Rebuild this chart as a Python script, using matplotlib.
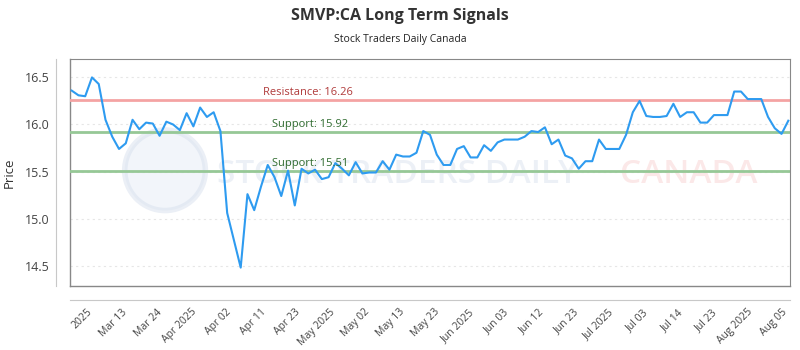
import matplotlib
matplotlib.use("Agg")
import matplotlib.pyplot as plt
import numpy as np
from matplotlib.patches import Ellipse

# closing prices, one per trading day
prices = [16.36, 16.31, 16.30, 16.50, 16.43, 16.05, 15.87, 15.74, 15.80, 16.05,
          15.95, 16.02, 16.01, 15.88, 16.03, 16.00, 15.94, 16.12, 15.98, 16.18,
          16.08, 16.13, 15.93, 15.06, 14.77, 14.48, 15.26, 15.09, 15.34, 15.57,
          15.44, 15.24, 15.51, 15.14, 15.53, 15.48, 15.52, 15.42, 15.44, 15.59,
          15.53, 15.46, 15.60, 15.48, 15.49, 15.49, 15.61, 15.52, 15.68, 15.66,
          15.66, 15.70, 15.93, 15.89, 15.68, 15.57, 15.57, 15.74, 15.77, 15.65,
          15.65, 15.78, 15.72, 15.81, 15.84, 15.84, 15.84, 15.87, 15.93, 15.92,
          15.97, 15.79, 15.84, 15.67, 15.64, 15.53, 15.61, 15.61, 15.84, 15.74,
          15.74, 15.74, 15.89, 16.13, 16.25, 16.09, 16.08, 16.08, 16.09, 16.22,
          16.08, 16.13, 16.13, 16.02, 16.02, 16.10, 16.10, 16.10, 16.35, 16.35,
          16.27, 16.27, 16.27, 16.08, 15.96, 15.90, 16.04]

tick_labels = ['2025', 'Mar 13', 'Mar 24', 'Apr 2025', 'Apr 02', 'Apr 11', 'Apr 23',
               'May 2025', 'May 02', 'May 13', 'May 23', 'Jun 2025', 'Jun 03', 'Jun 12',
               'Jun 23', 'Jul 2025', 'Jul 03', 'Jul 14', 'Jul 23', 'Aug 2025', 'Aug 05']

resistance = 16.26
supports = [15.92, 15.51]

plt.rcParams['font.family'] = ['Open Sans', 'DejaVu Sans']

fig = plt.figure(figsize=(8, 3.5), dpi=100)
ax = fig.add_axes([0.0875, 0.183, 0.9, 0.648])

# outer offset axis lines (set before ticks: set_position resets them)
for side in ['left', 'bottom']:
    ax.spines[side].set_position(('outward', 10))
    ax.spines[side].set_color('#c8c8c8')
for side in ['top', 'right']:
    ax.spines[side].set_color('#888888')
ax.plot([0, 0], [0, 1], transform=ax.transAxes, color='#888888', lw=1, clip_on=False)
ax.plot([0, 1], [0, 0], transform=ax.transAxes, color='#888888', lw=1, clip_on=False)

x = np.arange(len(prices))

# watermark
ax.add_patch(Ellipse((0.132, 0.51), 0.112, 0.355, transform=ax.transAxes,
                     facecolor='#e4eaf4', edgecolor='#d3ddec', lw=4, alpha=0.45, zorder=0))
ax.text(0.455, 0.49, 'STOCK TRADERS DAILY', transform=ax.transAxes, ha='center', va='center',
        fontsize=24, fontweight='semibold', color='#d6dfed', alpha=0.45, zorder=0)
ax.text(0.86, 0.49, 'CANADA', transform=ax.transAxes, ha='center', va='center',
        fontsize=24, fontweight='semibold', color='#f8cccc', alpha=0.45, zorder=0)

ax.axhline(resistance, color='#f4a3a3', lw=2, zorder=2)
for s in supports:
    ax.axhline(s, color='#96c896', lw=2, zorder=2)

ax.plot(x, prices, color='#2e9bf0', lw=1.5, zorder=3)

ax.text(35, resistance + 0.02, 'Resistance: %.2f' % resistance, color='#b03a3a',
        fontsize=8, ha='center', va='bottom')
for s in supports:
    ax.text(35.2, s + 0.02, 'Support: %.2f' % s, color='#2f6b2f',
            fontsize=8, ha='center', va='bottom')

ax.set_xlim(-0.25, len(prices) - 0.75)
ax.set_ylim(14.285, 16.694)
ax.set_yticks([14.5, 15.0, 15.5, 16.0, 16.5])
ax.set_yticklabels(['14.5', '15.0', '15.5', '16.0', '16.5'])
ax.grid(axis='y', color='#e6e6e6', ls=(0, (2, 3)), lw=0.8)
ax.set_axisbelow(True)

ticks = np.linspace(2.2, len(prices) - 2, len(tick_labels))
ax.set_xticks(ticks)
ax.set_xticklabels(tick_labels, rotation=45, ha='right', rotation_mode='anchor')

ax.tick_params(axis='both', length=0, colors='#444444')
ax.tick_params(axis='x', pad=5, labelsize=7.5)
ax.tick_params(axis='y', pad=5, labelsize=9)

ax.set_ylabel('Price', fontsize=9.5, color='#333333', labelpad=6)

fig.text(0.5, 0.955, 'SMVP:CA Long Term Signals', ha='center', va='center',
         fontsize=11.5, fontweight='bold', color='#333333')
fig.text(0.5, 0.886, 'Stock Traders Daily Canada', ha='center', va='center',
         fontsize=7.5, color='#222222')

fig.savefig('out.png', dpi=100)
